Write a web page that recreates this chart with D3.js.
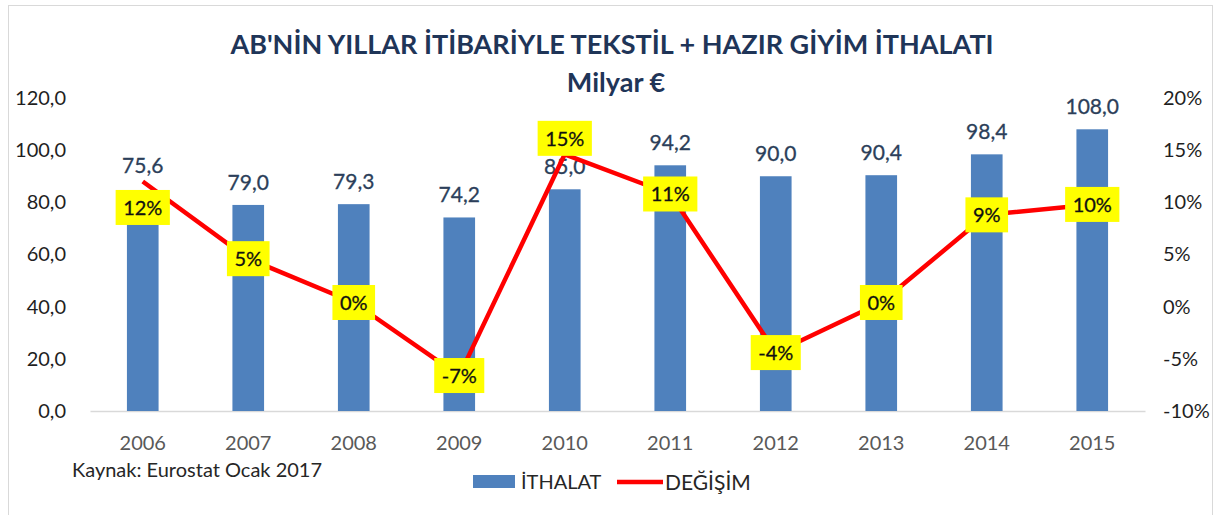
<!DOCTYPE html>
<html>
  <head>
    <meta charset="utf-8">
    <title>AB tekstil + hazır giyim ithalatı</title>
    <script src="https://d3js.org/d3.v7.min.js"></script>
    <style>
      body { margin: 0; background: #fff; }
      svg text { font-family: Lato, "Open Sans", sans-serif; }
    </style>
  </head>
  <body>
    <svg id="chart" width="1219" height="515"></svg>
  </body>
  <script type="text/javascript">
    // values
    var years = ["2006", "2007", "2008", "2009", "2010", "2011", "2012", "2013", "2014", "2015"];
    var ithalat = [75.6, 79.0, 79.3, 74.2, 85.0, 94.2, 90.0, 90.4, 98.4, 108.0];
    var degisim = [12.0, 4.6, 0.4, -6.6, 14.6, 10.8, -4.4, 0.4, 8.8, 9.8];
    var leftTicks = [0, 20, 40, 60, 80, 100, 120];
    var rightTicks = [-10, -5, 0, 5, 10, 15, 20];

    var svg = d3.select("#chart");

    // chart frame
    svg.append("rect")
        .attr("x", 8.5).attr("y", 5.5)
        .attr("width", 1204).attr("height", 530)
        .attr("fill", "#fff")
        .attr("stroke", "#d9d9d9");

    var x = d3.scaleBand()
        .domain(years)
        .range([90, 1145])
        .paddingInner(0.7)
        .paddingOuter(0.35);
    var yL = d3.scaleLinear().domain([0, 120]).range([411, 98]);
    var yR = d3.scaleLinear().domain([-10, 20]).range([411, 98]);

    var cx = function(i) { return x(years[i]) + x.bandwidth() / 2; };

    // title
    svg.append("text")
        .attr("x", 612).attr("y", 54)
        .attr("text-anchor", "middle")
        .attr("font-size", 27).attr("font-weight", "bold")
        .attr("fill", "#1f3558")
        .text("AB'NİN YILLAR İTİBARİYLE TEKSTİL + HAZIR GİYİM İTHALATI");
    svg.append("text")
        .attr("x", 616).attr("y", 92)
        .attr("text-anchor", "middle")
        .attr("font-size", 27).attr("font-weight", "bold")
        .attr("fill", "#1f3558")
        .text("Milyar €");

    // axes
    var comma = function(d) { return d3.format(".1f")(d).replace(".", ","); };

    var gL = svg.append("g")
        .attr("transform", "translate(90,0)")
        .call(d3.axisLeft(yL).tickValues(leftTicks).tickFormat(comma).tickSize(0).tickPadding(24));
    gL.select(".domain").remove();

    var gR = svg.append("g")
        .attr("transform", "translate(1145,0)")
        .call(d3.axisRight(yR).tickValues(rightTicks).tickFormat(function(d) { return d + "%"; }).tickSize(0).tickPadding(18));
    gR.select(".domain").remove();

    var gX = svg.append("g")
        .attr("transform", "translate(0,411)")
        .call(d3.axisBottom(x).tickSize(0).tickSizeOuter(0).tickPadding(25));
    gX.select(".domain").attr("stroke", "#d9d9d9").attr("stroke-width", 1.5);

    svg.selectAll(".tick text")
        .attr("font-family", "Lato, sans-serif")
        .attr("font-size", 20);
    gL.selectAll("text").attr("fill", "#1f1f1f");
    gR.selectAll("text").attr("fill", "#1f1f1f");
    gX.selectAll("text").attr("fill", "#595959");

    // bars
    svg.selectAll("rect.bar")
        .data(ithalat)
        .enter()
        .append("rect")
          .attr("class", "bar")
          .attr("x", function(d, i) { return x(years[i]); })
          .attr("y", function(d) { return yL(d); })
          .attr("width", x.bandwidth())
          .attr("height", function(d) { return yL(0) - yL(d); })
          .attr("fill", "#4f81bd");

    // bar value labels (2006 one was moved up in the original)
    svg.selectAll("text.barval")
        .data(ithalat)
        .enter()
        .append("text")
          .attr("class", "barval")
          .attr("x", function(d, i) { return cx(i); })
          .attr("y", function(d, i) { return yL(d) - 15 - (i === 0 ? 26 : 0); })
          .attr("text-anchor", "middle")
          .attr("font-size", 21)
          .attr("fill", "#2c3f5a")
          .attr("stroke", "#2c3f5a").attr("stroke-width", 0.3)
          .text(comma);

    // change line
    var line = d3.line()
        .x(function(d, i) { return cx(i); })
        .y(function(d) { return yR(d); });

    svg.append("path")
        .datum(degisim)
        .attr("d", line)
        .attr("fill", "none")
        .attr("stroke", "#ff0000")
        .attr("stroke-width", 4.5)
        .attr("stroke-linejoin", "round");

    // yellow labels, centred on the point except a couple of moved ones
    var shift = { "2006": 26, "2010": -16 };
    var labels = svg.selectAll("g.pct")
        .data(degisim)
        .enter()
        .append("g")
          .attr("class", "pct")
          .attr("transform", function(d, i) {
            return "translate(" + cx(i) + "," + (yR(d) + (shift[years[i]] || 0)) + ")";
          });

    labels.append("text")
        .attr("text-anchor", "middle")
        .attr("dy", "0.36em")
        .attr("font-size", 20)
        .attr("fill", "#111")
        .attr("stroke", "#111").attr("stroke-width", 0.3)
        .text(function(d) { return Math.round(d) + "%"; });

    labels.insert("rect", "text")
        .each(function() {
          var w = this.parentNode.querySelector("text").getComputedTextLength() + 15;
          d3.select(this)
            .attr("x", -w / 2).attr("y", -17.5)
            .attr("width", w).attr("height", 35)
            .attr("fill", "#ffff00");
        });

    // source note
    svg.append("text")
        .attr("x", 72).attr("y", 477)
        .attr("font-size", 20)
        .attr("fill", "#262626")
        .text("Kaynak: Eurostat Ocak 2017");

    // legend
    var leg = svg.append("g");
    leg.append("rect")
        .attr("x", 473).attr("y", 475)
        .attr("width", 42).attr("height", 13)
        .attr("fill", "#4f81bd");
    leg.append("text")
        .attr("x", 521).attr("y", 482).attr("dy", "0.36em")
        .attr("font-size", 20).attr("fill", "#262626")
        .text("İTHALAT");
    leg.append("line")
        .attr("x1", 617).attr("x2", 663)
        .attr("y1", 482).attr("y2", 482)
        .attr("stroke", "#ff0000").attr("stroke-width", 4.5);
    leg.append("text")
        .attr("x", 665).attr("y", 482).attr("dy", "0.36em")
        .attr("font-size", 21).attr("fill", "#262626")
        .text("DEĞİŞİM");
  </script>
</html>
